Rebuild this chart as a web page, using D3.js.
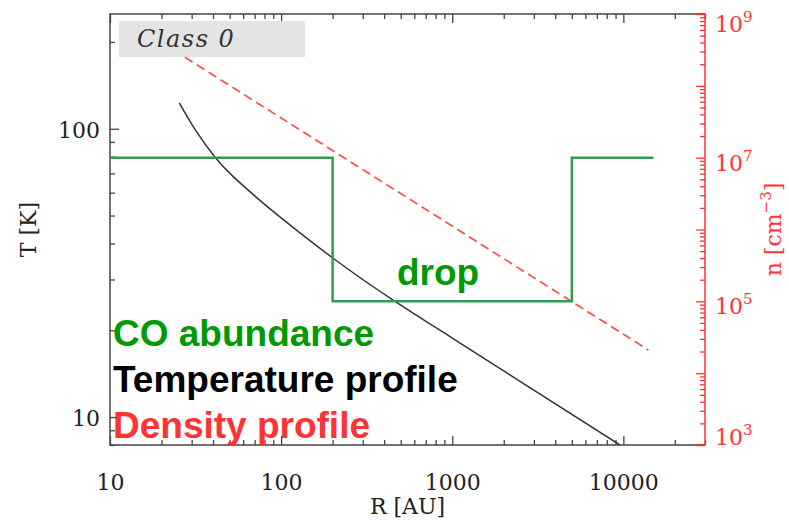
<!DOCTYPE html>
<html>
<head>
<meta charset="utf-8">
<script src="https://cdn.jsdelivr.net/npm/d3@7"></script>
<style>
  html, body { margin: 0; padding: 0; background: #fff; }
  svg { display: block; }
</style>
</head>
<body>
<svg id="chart" width="789" height="522"></svg>
<script>
// Radial profiles of a Class 0 envelope: temperature, density and a schematic CO abundance step.

// Temperature profile T(R)
const tempR = [25.4, 31.6, 41, 52.5, 72, 100, 206, 463, 1000, 2490, 9550];
const tempT = [123, 98.9, 79.8, 68.2, 57.7, 49.1, 35.2, 25.2, 18.8, 13.3, 8.0];

// Density profile n(R), power law drawn between its end points
const densR = [27.4, 14000];
const densN = [2.5e8, 2.1e4];

// CO abundance: high, depleted ("drop") zone, high again (plotted on the density axis scale)
const coR = [10, 200, 200, 5000, 5000, 15000];
const coLevel = [1e7, 1e7, 1e5, 1e5, 1e7, 1e7];

// Tick labels
const xTickValues = [10, 100, 1000, 10000];
const xTickLabels = ["10", "100", "1000", "10000"];
const tTickValues = [10, 100];
const tTickLabels = ["10", "100"];
const nTickValues = [1e3, 1e5, 1e7, 1e9];
const nTickExponents = ["3", "5", "7", "9"];

const legendItems = ["CO abundance", "Temperature profile", "Density profile"];
const legendColors = ["#009900", "#000000", "#ff3333"];

const frame = { left: 110, right: 705, top: 14, bottom: 445 };
const axisGrey = "#444";
const red = "#ff3333";
const serif = "'DejaVu Serif', serif";
const sans = "'Liberation Sans', Arial, sans-serif";

const svg = d3.select("#chart");

const x = d3.scaleLog().domain([10, 30000]).range([frame.left, frame.right]);
const yT = d3.scaleLog().domain([8, 250]).range([frame.bottom, frame.top]);
const yN = d3.scaleLog().domain([1e3, 1e9]).range([frame.bottom, frame.top]);

// minor/major tick values for a log domain
function logTicks(domain) {
  const lo = Math.floor(Math.log10(domain[0])), hi = Math.ceil(Math.log10(domain[1]));
  const major = [], minor = [];
  for (let e = lo; e <= hi; e++) {
    for (let m = 1; m <= 9; m++) {
      const v = m * Math.pow(10, e);
      if (v < domain[0] * 0.9999 || v > domain[1] * 1.0001) continue;
      (m === 1 ? major : minor).push(v);
    }
  }
  return { major, minor };
}

function styleAxis(g, color) {
  g.select(".domain").remove();
  g.selectAll("line").attr("stroke", color).attr("stroke-width", 1.3);
}

// ---- bottom & top axes (R)
const xt = logTicks(x.domain());
svg.append("g").attr("transform", `translate(0,${frame.bottom})`)
  .call(d3.axisBottom(x).tickValues(xt.minor).tickSize(-5).tickFormat(""))
  .call(styleAxis, axisGrey);
const xMajor = svg.append("g").attr("transform", `translate(0,${frame.bottom})`)
  .call(d3.axisBottom(x).tickValues(xTickValues).tickSize(-9).tickPadding(29)
    .tickFormat((d, i) => xTickLabels[i]))
  .call(styleAxis, axisGrey);
xMajor.selectAll("text").attr("font-family", serif).attr("font-size", 22).attr("fill", "#222");

svg.append("g").attr("transform", `translate(0,${frame.top})`)
  .call(d3.axisTop(x).tickValues(xt.minor).tickSize(-5).tickFormat(""))
  .call(styleAxis, axisGrey);
svg.append("g").attr("transform", `translate(0,${frame.top})`)
  .call(d3.axisTop(x).tickValues(xt.major).tickSize(-9).tickFormat(""))
  .call(styleAxis, axisGrey);

// ---- left axis (T)
const tt = logTicks(yT.domain());
svg.append("g").attr("transform", `translate(${frame.left},0)`)
  .call(d3.axisLeft(yT).tickValues(tt.minor).tickSize(-5).tickFormat(""))
  .call(styleAxis, axisGrey);
const tMajor = svg.append("g").attr("transform", `translate(${frame.left},0)`)
  .call(d3.axisLeft(yT).tickValues(tTickValues).tickSize(-9).tickPadding(10)
    .tickFormat((d, i) => tTickLabels[i]))
  .call(styleAxis, axisGrey);
tMajor.selectAll("text").attr("font-family", serif).attr("font-size", 22).attr("fill", "#222")
  .attr("dy", "0.38em");

// ---- right axis (n), red
const nt = logTicks(yN.domain());
svg.append("g").attr("transform", `translate(${frame.right},0)`)
  .call(d3.axisRight(yN).tickValues(nt.minor).tickSize(-5).tickFormat(""))
  .call(styleAxis, red);
const nMajor = svg.append("g").attr("transform", `translate(${frame.right},0)`)
  .call(d3.axisRight(yN).tickValues(nt.major).tickSize(-9).tickPadding(10).tickFormat(""))
  .call(styleAxis, red);

// labels 10^k, pulled inside the frame at the two ends
nMajor.selectAll(".tick").filter(d => nTickValues.includes(d)).each(function (d) {
  const i = nTickValues.indexOf(d);
  const pos = yN(d);
  const shift = Math.max(frame.top + 9, Math.min(frame.bottom - 9, pos + 4)) - pos;
  const t = d3.select(this).select("text")
    .attr("x", 10).attr("y", shift).attr("dy", "0.38em")
    .attr("font-family", serif).attr("font-size", 22).attr("fill", red).text(null);
  t.append("tspan").text("10");
  t.append("tspan").attr("dy", -10).attr("font-size", 15).text(nTickExponents[i]);
});

// ---- frame lines
svg.append("path")
  .attr("d", `M${frame.right},${frame.top}H${frame.left}V${frame.bottom}H${frame.right}`)
  .attr("fill", "none").attr("stroke", axisGrey).attr("stroke-width", 1.5);
svg.append("path")
  .attr("d", `M${frame.right - 9},${frame.top}H${frame.right}V${frame.bottom}H${frame.right - 9}`)
  .attr("fill", "none").attr("stroke", red).attr("stroke-width", 1.5);

// ---- axis titles
svg.append("text").attr("x", (frame.left + frame.right) / 2).attr("y", 514)
  .attr("text-anchor", "middle").attr("font-family", serif).attr("font-size", 22)
  .attr("fill", "#222").text("R [AU]");
svg.append("text").attr("transform", `translate(36,${(frame.top + frame.bottom) / 2}) rotate(-90)`)
  .attr("text-anchor", "middle").attr("font-family", serif).attr("font-size", 22)
  .attr("fill", "#222").text("T [K]");
const nTitle = svg.append("text")
  .attr("transform", `translate(781,${(frame.top + frame.bottom) / 2}) rotate(-90)`)
  .attr("text-anchor", "middle").attr("font-family", serif).attr("font-size", 22)
  .attr("fill", red);
nTitle.append("tspan").text("n [cm");
nTitle.append("tspan").attr("dy", -10).attr("font-size", 15).text("\u22123");
nTitle.append("tspan").attr("dy", 10).text("]");

// ---- "Class 0" tag
svg.append("rect").attr("x", 119).attr("y", 21).attr("width", 186).attr("height", 36)
  .attr("fill", "#e4e4e4");
svg.append("text").attr("x", 137).attr("y", 47)
  .attr("font-family", serif).attr("font-style", "italic").attr("font-size", 24)
  .attr("letter-spacing", 1.5).attr("fill", "#333").text("Class 0");

// ---- data
const clipId = "plot-clip";
svg.append("clipPath").attr("id", clipId).append("rect")
  .attr("x", frame.left).attr("y", frame.top)
  .attr("width", frame.right - frame.left).attr("height", frame.bottom - frame.top);
const plot = svg.append("g").attr("clip-path", `url(#${clipId})`);

// density (dashed red)
plot.append("path")
  .datum(densR.map((r, i) => [r, densN[i]]))
  .attr("d", d3.line().x(d => x(d[0])).y(d => yN(d[1])))
  .attr("fill", "none").attr("stroke", "#ff4d4d").attr("stroke-width", 1.7)
  .attr("stroke-dasharray", "9,5");

// temperature (thin black)
plot.append("path")
  .datum(tempR.map((r, i) => [r, tempT[i]]))
  .attr("d", d3.line().x(d => x(d[0])).y(d => yT(d[1])).curve(d3.curveNatural))
  .attr("fill", "none").attr("stroke", "#333").attr("stroke-width", 1.5);

// CO abundance step (green)
plot.append("path")
  .datum(coR.map((r, i) => [r, coLevel[i]]))
  .attr("d", d3.line().x(d => x(d[0])).y(d => yN(d[1])))
  .attr("fill", "none").attr("stroke", "#2f9f4d").attr("stroke-width", 2.5);

// ---- annotations
svg.append("text").attr("x", 397).attr("y", 285)
  .attr("font-family", sans).attr("font-weight", "bold").attr("font-size", 37)
  .attr("fill", "#009900").text("drop");

svg.selectAll("text.legend").data(legendItems).join("text")
  .attr("class", "legend")
  .attr("x", 113).attr("y", (d, i) => 346 + i * 46)
  .attr("font-family", sans).attr("font-weight", "bold").attr("font-size", 37)
  .attr("fill", (d, i) => legendColors[i]).text(d => d);
</script>
</body>
</html>
